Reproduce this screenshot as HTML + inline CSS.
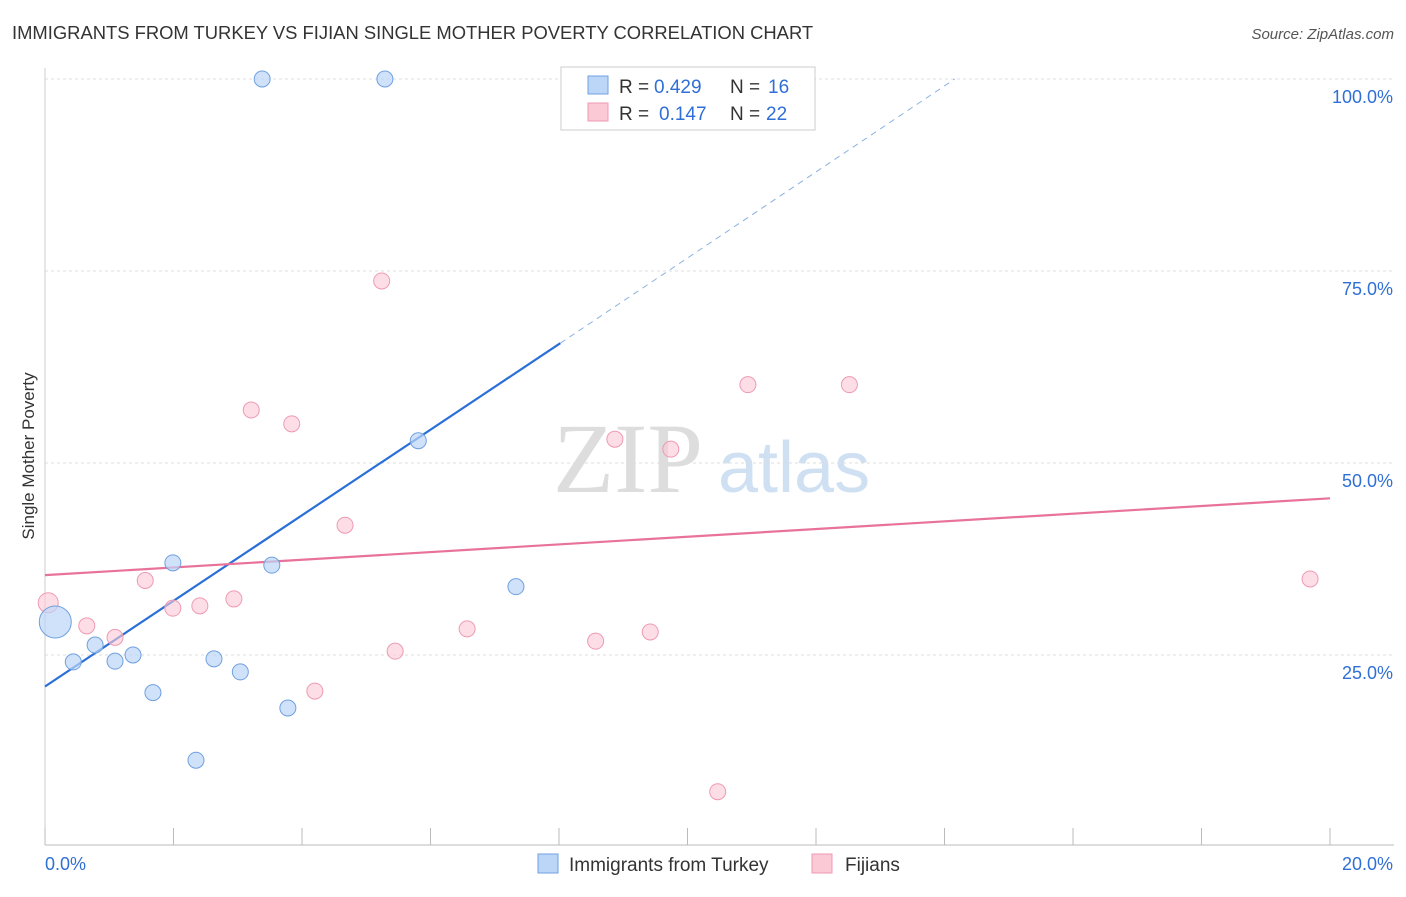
<!DOCTYPE html>
<html><head><meta charset="utf-8"><style>
body{margin:0;background:#fff;font-family:"Liberation Sans",sans-serif}
</style></head><body>
<svg width="1406" height="892" xmlns="http://www.w3.org/2000/svg" id="c">
<text x="12" y="39" font-size="18.4" fill="#333">IMMIGRANTS FROM TURKEY VS FIJIAN SINGLE MOTHER POVERTY CORRELATION CHART</text>
<text x="1394" y="39" font-size="15" fill="#555" font-style="italic" text-anchor="end">Source: ZipAtlas.com</text>
<text x="34" y="456" font-size="17" fill="#333" transform="rotate(-90 34 456)" text-anchor="middle">Single Mother Poverty</text>
<text x="553" y="492" font-size="100" fill="#ddd" font-family="Liberation Serif">ZIP</text>
<text x="718" y="492" font-size="72" fill="#cfe0f3">atlas</text>
<g id="grid"></g><g id="lines"></g><g id="pts"></g>
<g>
<rect x="561" y="67" width="254" height="63" fill="#fff" stroke="#ccc"/>
<rect x="588" y="76" width="20" height="18" fill="#bcd6f7" stroke="#6fa0e0"/>
<rect x="588" y="103" width="20" height="18" fill="#fbc8d6" stroke="#ee9ab2"/>
<text x="619" y="93" font-size="19" fill="#333">R =</text>
<text x="654" y="93" font-size="19" fill="#2f6fd6">0.429</text>
<text x="730" y="93" font-size="19" fill="#333">N =</text>
<text x="768" y="93" font-size="19" fill="#2f6fd6">16</text>
<text x="619" y="120" font-size="19" fill="#333">R =</text>
<text x="659" y="120" font-size="19" fill="#2f6fd6">0.147</text>
<text x="730" y="120" font-size="19" fill="#333">N =</text>
<text x="766" y="120" font-size="19" fill="#2f6fd6">22</text>
</g>
<g>
<rect x="538" y="854" width="20" height="19" fill="#bcd6f7" stroke="#6fa0e0"/>
<text x="569" y="871" font-size="19" fill="#333">Immigrants from Turkey</text>
<rect x="812" y="854" width="20" height="19" fill="#fbc8d6" stroke="#ee9ab2"/>
<text x="845" y="871" font-size="19" fill="#333">Fijians</text>
</g>
</svg>
<script>
const yTicks=[25,50,75,100];
const xTickLabels=["0.0%","20.0%"];
const blueX=[3.38,5.29,5.81,1.99,3.53,7.33,0.16,0.78,0.44,1.09,1.37,2.63,3.04,1.68,3.78,2.35];
const blueY=[100,100,52.9,37.0,36.7,33.9,29.3,26.3,24.1,24.2,25.0,24.5,22.8,20.1,18.1,11.3];
const pinkX=[5.24,3.21,3.84,8.87,9.74,10.94,12.52,4.67,1.56,1.99,2.41,2.94,0.05,0.65,1.09,6.57,8.57,9.42,5.45,4.2,10.47,19.69];
const pinkY=[73.7,56.9,55.1,53.1,51.8,60.2,60.2,41.9,34.7,31.1,31.4,32.3,31.8,28.8,27.3,28.4,26.8,28.0,25.5,20.3,7.2,34.9];
const blueLine=[[0,20.9],[8.02,65.6],[14.16,100]];
const pinkLine=[[0,35.4],[20,45.4]];
const X=v=>45+v/20*1285, Y=v=>847-v/100*768;
const ns="http://www.w3.org/2000/svg";
function mk(p,t,a){const e=document.createElementNS(ns,t);for(const k in a)e.setAttribute(k,a[k]);document.getElementById(p).appendChild(e);return e;}
let ax=mk('grid','line',{x1:45,y1:845,x2:1394,y2:845,stroke:'#bbb'});


let ay=mk('grid','line',{x1:45,y1:68,x2:45,y2:845,stroke:'#ccc'});


yTicks.forEach(t=>{
 let g=mk('grid','line',{x1:45,y1:Y(t),x2:1394,y2:Y(t),stroke:'#ddd','stroke-dasharray':'3,3'});
 
 
 let l=mk('grid','text',{x:1393,y:Y(t)+24,'font-size':18,fill:'#2f6fd6','text-anchor':'end'});
 l.textContent=t.toFixed(1)+'%';
 
 
});
for(let i=0;i<=10;i++){
 let t=mk('grid','line',{x1:X(i*2),y1:828,x2:X(i*2),y2:845,stroke:'#bbb'});
 
 
}
xTickLabels.forEach((s,i)=>{
 let l=mk('grid','text',{x:i?1393:45,y:870,'font-size':18,fill:'#2f6fd6','text-anchor':i?'end':'start'});
 l.textContent=s;
 
 
});
let bl=mk('lines','line',{x1:X(blueLine[0][0]),y1:Y(blueLine[0][1]),x2:X(blueLine[1][0]),y2:Y(blueLine[1][1]),stroke:'#2a6fd8','stroke-width':2.2});


let bd=mk('lines','line',{x1:X(blueLine[1][0]),y1:Y(blueLine[1][1]),x2:X(blueLine[2][0]),y2:Y(blueLine[2][1]),stroke:'#8ab0e0','stroke-width':1,'stroke-dasharray':'6,5'});


let pl=mk('lines','line',{x1:X(pinkLine[0][0]),y1:Y(pinkLine[0][1]),x2:X(pinkLine[1][0]),y2:Y(pinkLine[1][1]),stroke:'#e8729a','stroke-width':2.2});


pinkX.forEach((x,i)=>{
 let c=mk('pts','circle',{cx:X(x),cy:Y(pinkY[i]),r:i==12?10:8,fill:'#fbc8d6','fill-opacity':0.6,stroke:'#ee9ab2'});
 
 
});
blueX.forEach((x,i)=>{
 let c=mk('pts','circle',{cx:X(x),cy:Y(blueY[i]),r:i==6?16:8,fill:'#bcd6f7','fill-opacity':0.7,stroke:'#6fa0e0'});
 
 
});
</script>
</body></html>
